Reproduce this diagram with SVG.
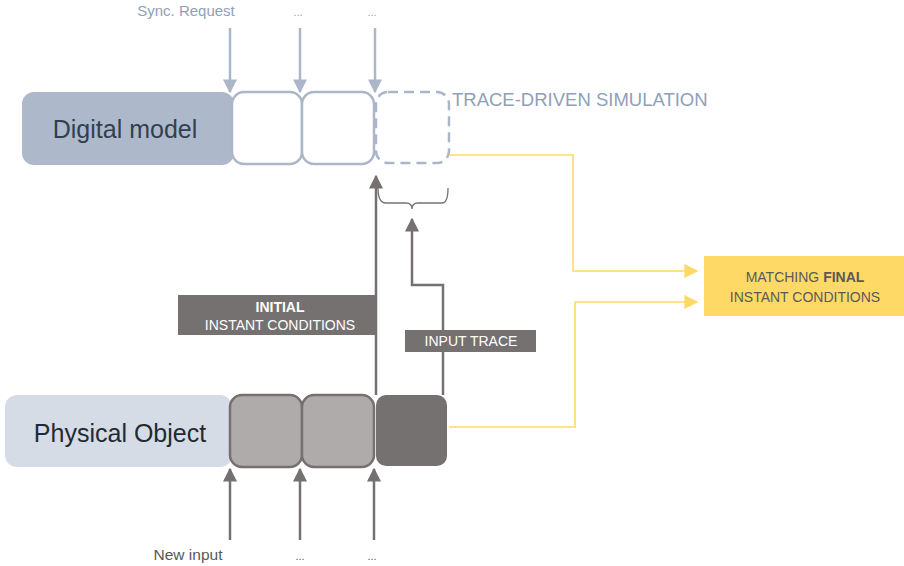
<svg xmlns="http://www.w3.org/2000/svg" width="904" height="566" viewBox="0 0 904 566">
  <defs>
    <marker id="ahBlue" viewBox="0 0 10 10" refX="9" refY="5" markerWidth="14" markerHeight="14" markerUnits="userSpaceOnUse" orient="auto">
      <path d="M0,0 L10,5 L0,10 Z" fill="#abb6c8"/>
    </marker>
    <marker id="ahGrey" viewBox="0 0 10 10" refX="9" refY="5" markerWidth="14" markerHeight="14" markerUnits="userSpaceOnUse" orient="auto">
      <path d="M0,0 L10,5 L0,10 Z" fill="#767171"/>
    </marker>
    <marker id="ahYellow" viewBox="0 0 10 10" refX="9" refY="5" markerWidth="14" markerHeight="14" markerUnits="userSpaceOnUse" orient="auto">
      <path d="M0,0 L10,5 L0,10 Z" fill="#ffd966"/>
    </marker>
  </defs>
  <style>
    text { font-family: "Liberation Sans", "Open Sans", Arial, sans-serif; }
    .big { font-size: 25px; }
    .blue { stroke: #abb6c8; stroke-width: 2.5; fill: none; }
    .grey { stroke: #767171; stroke-width: 2.5; fill: none; }
    .yellow { stroke: #ffd966; stroke-width: 1.6; fill: none; }
    .slot { fill: #ffffff; stroke: #abb6c8; stroke-width: 2.5; }
    .pslot { fill: #afabab; stroke: #767171; stroke-width: 2.5; }
    .label { fill: #767171; }
    .ltext { fill: #ffffff; font-size: 14px; }
  </style>

  <!-- Digital model row -->
  <g id="digital-model">
    <rect x="22" y="92" width="212" height="73" rx="12" fill="#adb9ca"/>
    <text class="big" x="125" y="138" text-anchor="middle" fill="#333f50">Digital model</text>
  </g>
  <g id="dm-slot-1"><rect class="slot" x="232" y="92" width="70" height="72" rx="12"/></g>
  <g id="dm-slot-2"><rect class="slot" x="302" y="92" width="72" height="72" rx="12"/></g>
  <g id="dm-slot-3"><rect class="slot" x="376" y="92" width="73" height="71" rx="12" stroke-dasharray="10,6"/></g>
  <g id="trace-driven-label">
    <text x="452" y="106" font-size="18.5" fill="#8fa0b8">TRACE-DRIVEN SIMULATION</text>
  </g>

  <!-- Physical object row -->
  <g id="physical-object">
    <rect x="5" y="395" width="227" height="72" rx="12" fill="#d6dce5"/>
    <text class="big" x="120" y="442" text-anchor="middle" fill="#222a35">Physical Object</text>
  </g>
  <g id="po-slot-1"><rect class="pslot" x="230" y="395" width="72" height="72" rx="12"/></g>
  <g id="po-slot-2"><rect class="pslot" x="302" y="395" width="72" height="72" rx="12"/></g>
  <g id="po-slot-3"><rect x="376" y="395" width="71" height="71" rx="10" fill="#767171"/></g>

  <!-- Result box -->
  <g id="matching-final">
    <rect x="704" y="256" width="200" height="60" fill="#ffd966"/>
    <text x="805" y="282" text-anchor="middle" font-size="14" fill="#595959">MATCHING <tspan font-weight="bold">FINAL</tspan></text>
    <text x="805" y="302" text-anchor="middle" font-size="14" fill="#595959">INSTANT CONDITIONS</text>
  </g>

  <!-- Connectors -->
  <g id="connectors">
    <path class="blue" d="M230,28 V92" marker-end="url(#ahBlue)"/>
    <path class="blue" d="M300,28 V92" marker-end="url(#ahBlue)"/>
    <path class="blue" d="M375,28 V92" marker-end="url(#ahBlue)"/>

    <path class="grey" d="M230,540 V469" marker-end="url(#ahGrey)"/>
    <path class="grey" d="M300,540 V469" marker-end="url(#ahGrey)"/>
    <path class="grey" d="M374,540 V469" marker-end="url(#ahGrey)"/>

    <path class="grey" d="M376,395 V176" marker-end="url(#ahGrey)"/>
    <path class="grey" d="M443,395 V285 H412 V219" marker-end="url(#ahGrey)"/>

    <path d="M378,188 Q378,203 386,203 H406 Q412,203 412,209 Q412,203 418,203 H442 Q448,203 448,188" fill="none" stroke="#767171" stroke-width="1.3"/>

    <path class="yellow" d="M449,155 H573 V271 H697" marker-end="url(#ahYellow)"/>
    <path class="yellow" d="M449,427 H575 V302 H697" marker-end="url(#ahYellow)"/>
  </g>

  <!-- Connector labels -->
  <g id="initial-label">
    <rect class="label" x="178" y="295" width="197" height="40"/>
    <text class="ltext" x="280" y="312" text-anchor="middle" font-weight="bold">INITIAL</text>
    <text class="ltext" x="280" y="330" text-anchor="middle">INSTANT CONDITIONS</text>
  </g>
  <g id="input-trace-label">
    <rect class="label" x="405" y="330" width="131" height="22"/>
    <text class="ltext" x="471" y="346" text-anchor="middle">INPUT TRACE</text>
  </g>

  <!-- Arrow captions -->
  <g id="captions">
    <text x="186" y="16" text-anchor="middle" font-size="15" fill="#8fa0b8">Sync. Request</text>
    <text x="298" y="16" text-anchor="middle" font-size="11" fill="#8fa0b8">...</text>
    <text x="372" y="16" text-anchor="middle" font-size="11" fill="#8fa0b8">...</text>
    <text x="188" y="560" text-anchor="middle" font-size="15.5" fill="#595959">New input</text>
    <text x="300" y="560" text-anchor="middle" font-size="11" fill="#595959">...</text>
    <text x="372" y="560" text-anchor="middle" font-size="11" fill="#595959">...</text>
  </g>
</svg>
